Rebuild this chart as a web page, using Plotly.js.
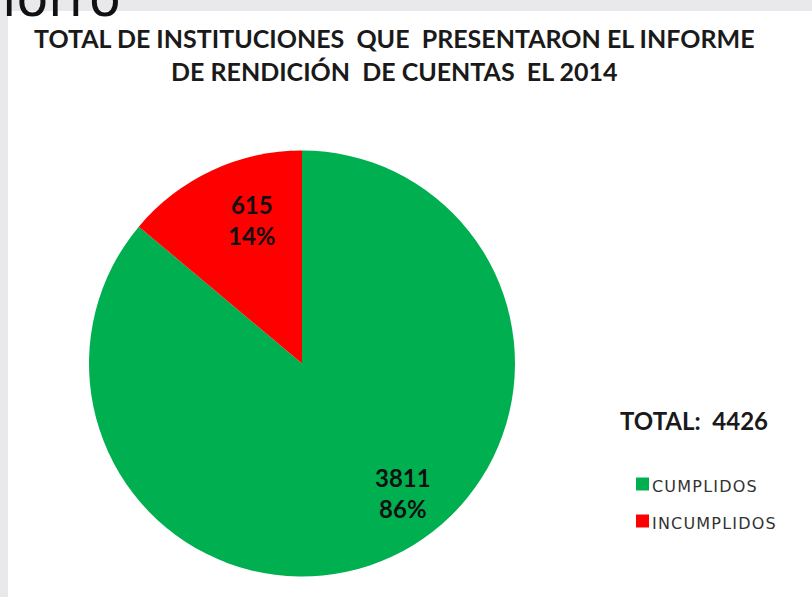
<!DOCTYPE html>
<html>
<head>
<meta charset="utf-8">
<script src="https://cdn.plot.ly/plotly-3.0.1.min.js"></script>
<style>html,body{margin:0;padding:0;background:#fff;}#chart{width:812px;height:597px;}</style>
</head>
<body>
<div id="chart"></div>
<script>
const categories = ["CUMPLIDOS", "INCUMPLIDOS"];
const values = [3811, 615];
const colors = ["#00b050", "#ff0000"];
const titleLines = ["TOTAL DE INSTITUCIONES  QUE  PRESENTARON EL INFORME", "DE RENDICIÓN  DE CUENTAS  EL 2014"];

const total = values.reduce((a, b) => a + b, 0);
const FONT = "Lato, 'Liberation Sans', sans-serif";
const W = 812, H = 597;
// label placement (px) for each slice, styling only
const labelPos = [[403, 493], [252, 220]];

const trace = {
  type: "pie",
  labels: categories,
  values: values,
  marker: {colors: colors, line: {width: 0}},
  sort: false,
  direction: "clockwise",
  rotation: 0,
  textinfo: "none",
  hoverinfo: "label+value+percent",
  domain: {x: [89 / W, 515 / W], y: [(H - 578) / H, (H - 149) / H]},
  showlegend: false
};

const annotations = [
  {text: titleLines.join("<br>"), x: 394 / W, y: 1 - 55 / H, xref: "paper", yref: "paper",
   showarrow: false, xanchor: "center", yanchor: "middle", align: "center",
   font: {family: FONT, size: 25, color: "#1a1a1a", weight: "bold"}},
  {text: "TOTAL:  " + total, x: 694 / W, y: 1 - 420 / H, xref: "paper", yref: "paper",
   showarrow: false, xanchor: "center", yanchor: "middle",
   font: {family: FONT, size: 24, color: "#1a1a1a", weight: "bold"}},
  {text: "lorro", x: 0, y: 1 - 30 / H, xref: "paper", yref: "paper",
   showarrow: false, xanchor: "left", yanchor: "bottom",
   font: {family: "'DejaVu Sans', sans-serif", size: 52, color: "#111"}}
];
values.forEach((v, i) => {
  annotations.push({text: v + "<br>" + Math.round(100 * v / total) + "%",
    x: labelPos[i][0] / W, y: 1 - labelPos[i][1] / H, xref: "paper", yref: "paper",
    showarrow: false, xanchor: "center", yanchor: "middle", align: "center",
    font: {family: FONT, size: 24, color: "#111", weight: "bold"}});
});
const shapes = [
  {type: "rect", xref: "paper", yref: "paper", x0: 0, x1: 1, y0: 1 - 11 / H, y1: 1,
   fillcolor: "#e9e9ec", line: {width: 0}, layer: "below"},
  {type: "rect", xref: "paper", yref: "paper", x0: 0, x1: 8 / W, y0: 0, y1: 1,
   fillcolor: "#e9e9ec", line: {width: 0}, layer: "below"}
];
categories.forEach((c, i) => {
  const yc = 484 + i * 37;
  shapes.push({type: "rect", xref: "paper", yref: "paper",
    x0: 636 / W, x1: 649 / W, y0: 1 - (yc + 6.5) / H, y1: 1 - (yc - 6.5) / H,
    fillcolor: colors[i], line: {width: 0}});
  annotations.push({text: '<span style="letter-spacing:1.2px">' + c + '</span>',
    x: 650 / W, y: 1 - (yc + 2) / H, xref: "paper", yref: "paper",
    showarrow: false, xanchor: "left", yanchor: "middle",
    font: {family: "'DejaVu Sans', sans-serif", size: 16, color: "#333"}});
});

const layout = {
  width: W, height: H,
  margin: {l: 0, r: 0, t: 0, b: 0},
  paper_bgcolor: "#ffffff",
  showlegend: false,
  annotations: annotations,
  shapes: shapes
};

Plotly.newPlot("chart", [trace], layout, {displayModeBar: false, staticPlot: true});
</script>
</body>
</html>
